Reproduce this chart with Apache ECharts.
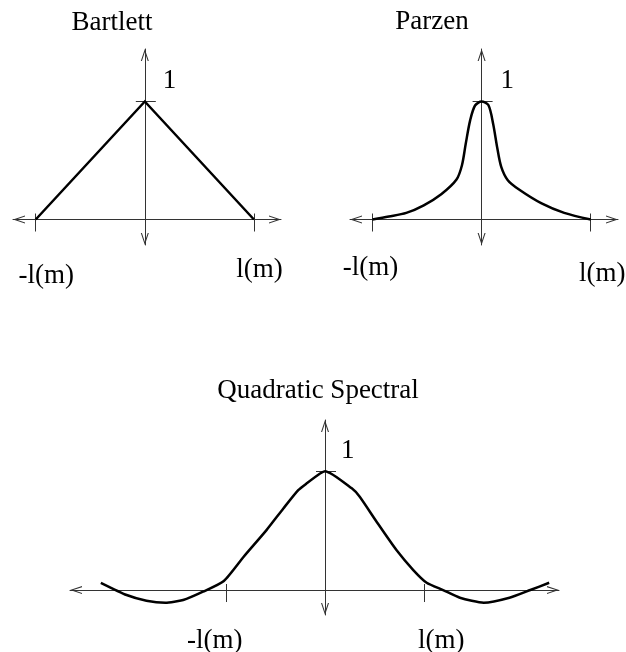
<!DOCTYPE html>
<html>
<head>
<meta charset="utf-8">
<script src="https://cdn.jsdelivr.net/npm/echarts@6/dist/echarts.min.js"></script>
<style>
  html, body { margin: 0; padding: 0; background: #fff; }
  #chart { width: 626px; height: 652px; }
</style>
</head>
<body>
<div id="chart"></div>
<script>
// Lag-window kernels: k(x) against the lag x, with l(m) as the unit on x.
const panelTitles = ['Bartlett', 'Parzen', 'Quadratic Spectral'];
const lagTickValues = [-1, 1];
const lagTickLabels = ['-l(m)', 'l(m)'];
const peakTickValues = [1];
const peakLabel = '1';

const bartlettX = [-1, 0, 1];
const bartlettY = [0, 1, 0];

const parzenX = [-1, -0.85, -0.69, -0.53, -0.37, -0.23, -0.18, -0.145, -0.105, -0.06, 0,
                 0.062, 0.106, 0.142, 0.18, 0.24, 0.343, 0.55, 0.757, 1];
const parzenY = [0, 0.025, 0.056, 0.12, 0.214, 0.339, 0.46, 0.644, 0.84, 0.966, 1,
                 0.97, 0.81, 0.615, 0.446, 0.333, 0.254, 0.136, 0.056, 0];

const qsX = [-2.26, -2.0, -1.8, -1.61, -1.43, -1.23, -1.02, -0.82, -0.59, -0.42, -0.27, -0.18, -0.05, 0,
             0.27, 0.35, 0.52, 0.72, 0.89, 1.025, 1.19, 1.36, 1.6, 1.86, 2.07, 2.26];
const qsY = [0.061, -0.042, -0.09, -0.107, -0.084, -0.014, 0.076, 0.28, 0.504, 0.686, 0.84, 0.9, 0.98, 1,
             0.855, 0.784, 0.574, 0.336, 0.168, 0.061, 0, -0.065, -0.107, -0.065, 0, 0.061];

// Styling and layout
const FONT = 'Liberation Serif';
const FONT_SIZE = 27;
const AXIS_COLOR = '#333';
// open "V" arrow head, pointing up in its own frame
const ARROW = 'path://M0,12L4,0L8,12L6.9,12L4,3.3L1.1,12Z';

const panels = [
  {
    title: panelTitles[0], xs: bartlettX, ys: bartlettY, smooth: false,
    grid: { left: 13, top: 49, width: 268, height: 196 },
    xRange: [-1.208, 1.248], yRange: [-0.216, 1.445],
    titlePos: { left: 112, top: 9 },
    lagPad: { neg: [34, 0, 0, 21], pos: [22, 0, 0, 11] },
    peakPad: [0, 0, 42, 0], peakMargin: 18
  },
  {
    title: panelTitles[1], xs: parzenX, ys: parzenY, smooth: 0.3,
    grid: { left: 350, top: 49, width: 268, height: 196 },
    xRange: [-1.206, 1.25], yRange: [-0.216, 1.445],
    titlePos: { left: 432, top: 8 },
    lagPad: { neg: [18, 4, 0, 0], pos: [30, 0, 0, 23] },
    peakPad: [0, 0, 42, 0], peakMargin: 19
  },
  {
    title: panelTitles[2], xs: qsX, ys: qsY, smooth: 0.2,
    grid: { left: 70, top: 420, width: 489, height: 195 },
    xRange: [-2.571, 2.359], yRange: [-0.21, 1.43],
    titlePos: { left: 318, top: 377 },
    lagPad: { neg: [24, 22, 0, 0], pos: [24, 0, 0, 34] },
    peakPad: [0, 0, 41, 0], peakMargin: 16
  }
];

const textBase = { fontFamily: FONT, fontSize: FONT_SIZE, color: '#000', lineHeight: FONT_SIZE };
const axisLineStyle = { color: AXIS_COLOR, width: 1 };

// distance from the far grid edge back to the zero line, used to slide the companion axes onto it
const toZeroFromMax = (size, range) => size * range[1] / (range[1] - range[0]);

const xAxes = [], yAxes = [];
panels.forEach((p, i) => {
  // main x axis: arrows, downward ticks and the lag labels
  xAxes.push({
    type: 'value', gridIndex: i, min: p.xRange[0], max: p.xRange[1], position: 'bottom',
    axisLine: { show: true, onZero: true, onZeroAxisIndex: 2 * i,
      symbol: [ARROW, ARROW], symbolSize: [8, 12], symbolOffset: [6, -6], lineStyle: axisLineStyle },
    axisTick: { show: true, customValues: lagTickValues, length: 12, lineStyle: axisLineStyle },
    axisLabel: {
      show: true, customValues: lagTickValues, margin: 0,
      formatter: v => v < 0 ? '{n|' + lagTickLabels[0] + '}' : '{p|' + lagTickLabels[1] + '}',
      rich: {
        n: Object.assign({}, textBase, { padding: p.lagPad.neg }),
        p: Object.assign({}, textBase, { padding: p.lagPad.pos })
      }
    },
    splitLine: { show: false }
  });
  // companion x axis: the short upper half of the lag ticks
  xAxes.push({
    type: 'value', gridIndex: i, min: p.xRange[0], max: p.xRange[1], position: 'top',
    offset: -toZeroFromMax(p.grid.height, p.yRange),
    axisLine: { show: false, onZero: false },
    axisTick: { show: true, customValues: lagTickValues, length: 6, lineStyle: axisLineStyle },
    axisLabel: { show: false },
    splitLine: { show: false }
  });
  // main y axis: arrows and left half of the peak tick
  yAxes.push({
    type: 'value', gridIndex: i, min: p.yRange[0], max: p.yRange[1], position: 'left',
    axisLine: { show: true, onZero: true, onZeroAxisIndex: 2 * i,
      symbol: [ARROW, ARROW], symbolSize: [8, 12], symbolOffset: [6, -6], lineStyle: axisLineStyle },
    axisTick: { show: true, customValues: peakTickValues, length: 9, lineStyle: axisLineStyle },
    axisLabel: { show: false },
    splitLine: { show: false }
  });
  // companion y axis: right half of the peak tick and its label
  yAxes.push({
    type: 'value', gridIndex: i, min: p.yRange[0], max: p.yRange[1], position: 'right',
    offset: -toZeroFromMax(p.grid.width, p.xRange),
    axisLine: { show: false, onZero: false },
    axisTick: { show: true, customValues: peakTickValues, length: 11, lineStyle: axisLineStyle },
    axisLabel: {
      show: true, customValues: peakTickValues, margin: p.peakMargin,
      formatter: () => '{o|' + peakLabel + '}',
      rich: { o: Object.assign({}, textBase, { padding: p.peakPad }) }
    },
    splitLine: { show: false }
  });
});

const chart = echarts.init(document.getElementById('chart'), null, { renderer: 'canvas' });
chart.setOption({
  backgroundColor: '#fff',
  animation: false,
  title: panels.map(p => ({
    text: p.title, left: p.titlePos.left, top: p.titlePos.top, textAlign: 'center', padding: 0,
    textStyle: { fontFamily: FONT, fontSize: FONT_SIZE, fontWeight: 'normal', color: '#000', lineHeight: FONT_SIZE }
  })),
  grid: panels.map(p => Object.assign({ containLabel: false, outerBoundsMode: 'none' }, p.grid)),
  xAxis: xAxes,
  yAxis: yAxes,
  series: panels.map((p, i) => ({
    type: 'line', xAxisIndex: 2 * i, yAxisIndex: 2 * i,
    data: p.xs.map((x, k) => [x, p.ys[k]]),
    showSymbol: false, symbol: 'none', smooth: p.smooth, silent: true,
    lineStyle: { color: '#000', width: 2.5, join: 'miter' }
  }))
});
</script>
</body>
</html>
